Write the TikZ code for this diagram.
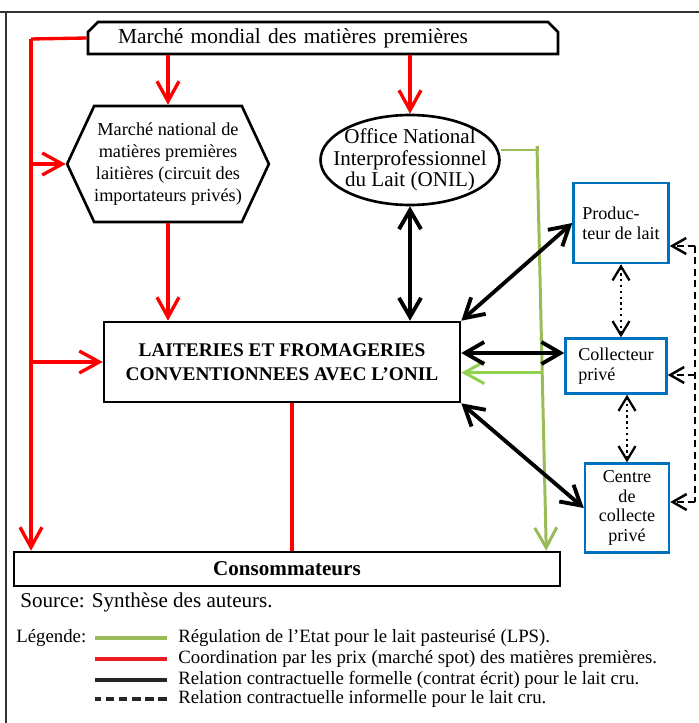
\documentclass[tikz,border=0pt]{standalone}
\usepackage{fontspec}
\setmainfont{Liberation Serif}
\usetikzlibrary{arrows.meta,positioning,calc,shapes.geometric,shapes.misc,shapes.symbols}
\definecolor{prixred}{RGB}{255,0,0}
\definecolor{legred}{RGB}{237,28,36}
\definecolor{etatgreen}{RGB}{155,187,89}
\definecolor{etatlime}{RGB}{146,208,80}
\definecolor{acteurblue}{RGB}{0,112,192}
\newcommand{\fs}[2]{\fontsize{#1}{#2}\selectfont}

\begin{document}
\begin{tikzpicture}[x=0.02cm, y=-0.02cm,
    box/.style={draw, line width=1.5pt, align=center, inner sep=0pt},
    acteur/.style={draw=acteurblue, line width=1.4pt, inner sep=0pt, font=\fs{10.3}{11.2}},
    rarr/.style={-{Straight Barb[length=4mm,width=4.4mm]}, prixred, line width=1.9pt},
    garr/.style={-{Straight Barb[length=4mm,width=4.4mm]}, etatgreen, line width=1.7pt},
    barr/.style={{Straight Barb[length=3.8mm,width=4.4mm]}-{Straight Barb[length=3.8mm,width=4.4mm]}, line width=2.2pt},
    darr/.style={{Straight Barb[length=2.8mm,width=3.4mm]}-{Straight Barb[length=2.8mm,width=3.4mm]}, line width=1.3pt, dotted},
    infarr/.style={-{Straight Barb[length=2.8mm,width=3.2mm]}, line width=1.4pt, dash pattern=on 4pt off 2.5pt},
    legtxt/.style={anchor=west, inner sep=0pt, font=\fs{10.7}{12}},
]
    \useasboundingbox (0,0) rectangle (699,723);

    % Cadre
    \draw[black!80, line width=0.8pt] (0,12) -- (699,12);
    \draw[black!80, line width=0.8pt] (6,12) -- (6,723);

    % Marches
    \node[box, chamfered rectangle, chamfered rectangle corners={north west,north east},
          chamfered rectangle xsep=0.1cm, chamfered rectangle ysep=0.1cm,
          text width=8.2cm, align=left, inner xsep=0.5cm,
          minimum height=0.64cm, font=\fs{12.2}{14}] (mondial) at (323,38)
          {Marché mondial des matières premières};
    \node[box, signal, signal to=west and east, signal pointer angle=130,
          minimum width=4cm, minimum height=2.32cm, font=\fs{10.4}{12.4}] (national) at (168,164)
          {Marché national de\\matières premières\\laitières (circuit des\\importateurs privés)};
    \node[draw, ellipse, line width=1.5pt, minimum width=3.58cm, minimum height=1.8cm, inner sep=0pt,
          label={[align=center, font=\fs{12}{12.3}]center:Office National\\Interprofessionnel\\du Lait (ONIL)}] (onil) at (410,160) {};

    % Transformation et consommation
    \node[box, minimum width=7.12cm, minimum height=1.6cm, font=\bfseries\fs{11}{13.6}] (laiteries) at (282,362)
          {LAITERIES ET FROMAGERIES\\CONVENTIONNEES AVEC L’ONIL};
    \node[box, minimum width=10.92cm, minimum height=0.68cm, font=\bfseries\fs{12}{14}] (conso) at (287,569) {Consommateurs};

    % Acteurs du lait cru
    \node[acteur, align=left, minimum width=1.9cm, minimum height=1.6cm] (producteur) at (621,223) {Produc-\\teur de lait};
    \node[acteur, align=left, minimum width=2.02cm, minimum height=1.1cm] (collecteur) at (616,366) {Collecteur\\privé};
    \node[acteur, align=center, minimum width=1.68cm, minimum height=1.78cm] (centre) at (627,508) {Centre\\de\\collecte\\privé};

    % Coordination par les prix
    \coordinate (rouge) at (31,39);
    \coordinate (rbas) at ($(laiteries.south)+(10,0)$);
    \draw[prixred, line width=1.9pt] (mondial.west) -- (rouge);
    \draw[rarr] (rouge) -- (rouge |- conso.north);
    \draw[rarr] (rouge |- national.west) -- (national.west);
    \draw[rarr] (rouge |- laiteries.west) -- (laiteries.west);
    \draw[rarr] (national.north |- mondial.south) -- (national.north);
    \draw[rarr] (onil.north |- mondial.south) -- (onil.north);
    \draw[rarr] (national.south) -- (national.south |- laiteries.north);
    \draw[prixred, line width=1.9pt] (rbas) -- (rbas |- conso.north);

    % Regulation de l'Etat
    \coordinate (vtop) at (537,146);
    \coordinate (vbot) at ($(conso.north east)+(-15,0)$);
    \coordinate (vmid) at ($(vtop)!0.56!(vbot)$);
    \draw[etatgreen, line width=1.7pt] (onil.east |- vtop) ++(0,4) -| (vtop);
    \draw[garr] (vtop) -- (vbot);
    \draw[garr, etatlime] (vmid) -- (vmid -| laiteries.east);

    % Contrats formels
    \coordinate (lcol) at ($(laiteries.east)+(0,-9)$);
    \draw[barr] (onil.south) -- (onil.south |- laiteries.north);
    \draw[barr] (laiteries.north east) -- (producteur.west);
    \draw[barr] (lcol) -- (lcol -| collecteur.west);
    \draw[barr] (laiteries.south east) -- (centre.west);

    % Relations entre acteurs
    \draw[darr] (producteur.south) -- (producteur.south |- collecteur.north);
    \draw[darr] (centre.north |- collecteur.south) -- (centre.north);
    \coordinate (informel) at (695,246);
    \coordinate (icol) at ($(collecteur.east)+(0,9)$);
    \coordinate (icen) at ($(centre.east)+(0,-6)$);
    \draw[line width=1.4pt, dash pattern=on 4pt off 2.5pt] (informel) -- (informel |- icen);
    \draw[infarr] (informel) -- (informel -| producteur.east);
    \draw[infarr] (informel |- icol) -- (icol);
    \draw[infarr] (informel |- icen) -- (icen);

    % Source et legende
    \node[legtxt, font=\fs{12}{14}] (source) at (20,602) {Source: Synthèse des auteurs.};
    \node[legtxt] (legende) at (16,638) {Légende:};
    \node[legtxt] (leg1) at (178,638) {Régulation de l’Etat pour le lait pasteurisé (LPS).};
    \node[legtxt] (leg2) at (178,659) {Coordination par les prix (marché spot) des matières premières.};
    \node[legtxt] (leg3) at (178,680) {Relation contractuelle formelle (contrat écrit) pour le lait cru.};
    \node[legtxt] (leg4) at (178,699) {Relation contractuelle informelle pour le lait cru.};
    \draw[etatgreen, line width=2pt] ($(leg1.west)+(-11,0)$) -- ++(-72,0);
    \draw[legred, line width=2pt] ($(leg2.west)+(-11,0)$) -- ++(-72,0);
    \draw[black!85, line width=2pt] ($(leg3.west)+(-11,0)$) -- ++(-72,0);
    \draw[black!85, line width=2pt, dash pattern=on 5pt off 2.5pt] ($(leg4.west)+(-11,0)$) -- ++(-72,0);
\end{tikzpicture}
\end{document}
